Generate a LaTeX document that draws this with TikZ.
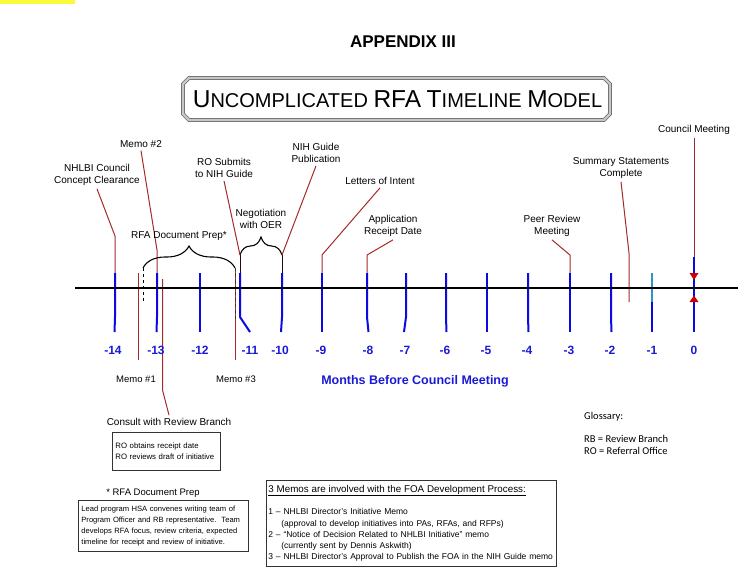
\documentclass[tikz,border=0pt]{standalone}
\usepackage{fontspec}
\setmainfont{Liberation Sans}
\newfontfamily\glossfont{Carlito}
\usepackage{tikz}
\usetikzlibrary{
    arrows.meta,
    calc,
    decorations.pathreplacing
}
\definecolor{leadred}{RGB}{165,42,42}
\definecolor{tickblue}{RGB}{10,10,225}
\definecolor{monthblue}{RGB}{25,25,215}
\definecolor{tealtick}{RGB}{45,150,195}
\definecolor{framegray}{RGB}{105,105,105}
\definecolor{markyellow}{RGB}{250,250,60}
\newcommand{\scword}[2]{{\fontsize{24.5}{28}\selectfont #1}{\fontsize{20}{28}\selectfont #2}}
\tikzstyle{leader} = [
    line width=1pt,
    draw=leadred
]
\tikzstyle{stub} = [
    line width=1pt,
    draw=black!75!leadred
]
\tikzstyle{tick} = [
    line width=2pt,
    draw=tickblue
]
\tikzstyle{lbl} = [
    align=center,
    inner sep=3pt,
    font=\fontsize{10}{12}\selectfont
]
\tikzstyle{month} = [
    text=monthblue,
    font=\bfseries\fontsize{12}{14}\selectfont
]
\tikzstyle{notebox} = [
    draw=black!80,
    line width=0.8pt,
    align=left,
    anchor=north west
]
\tikzstyle{curly} = [
    decorate,
    line width=1.1pt
]

\begin{document}
\begin{tikzpicture}[x=1pt, y=-1pt]
        \useasboundingbox (0,0) rectangle (738,568);
        \fill[markyellow] (0,0) rectangle (75,3.5);

        % Heading and title frame
        \node[font=\bfseries\fontsize{17}{20}\selectfont] (appendix) at (403,42) {APPENDIX III};
        \draw[draw=framegray, line width=0.7pt, double=gray!45, double distance=2.4pt]
            (189,78) -- (604,78) -- (610,84) -- (610,114) -- (604,120)
            -- (189,120) -- (183,114) -- (183,84) -- cycle;
        \node[anchor=base, font=\fontsize{20}{24}\selectfont] (title) at (397.5,107.5)
            {\scword{U}{NCOMPLICATED} \scword{RFA}{} \scword{T}{IMELINE} \scword{M}{ODEL}};

        % Tick tops
        \coordinate (m14) at (115,273);
        \coordinate (m13) at (157,273);
        \coordinate (m12) at (200,273);
        \coordinate (m11) at (240,273);
        \coordinate (m10) at (282,273);
        \coordinate (m9) at (322,273);
        \coordinate (m8) at (367,273);
        \coordinate (m7) at (406,273);
        \coordinate (m6) at (446,273);
        \coordinate (m5) at (487,273);
        \coordinate (m4) at (528,273);
        \coordinate (m3) at (570,273);
        \coordinate (m2) at (611,273);
        \coordinate (m1) at (652,273);
        \coordinate (m0) at (694,257);

        % NHLBI council clearance
        \node[lbl] (clearance) at (97,175) {NHLBI Council\\Concept Clearance};
        \draw[leader] (clearance.south) -- (115,236) -- (m14);

        % Memo 2
        \node[lbl] (memotwo) at (141,144) {Memo \#2};
        \draw[leader] (memotwo.south) -- (157,250) -- (m13);

        % RFA document prep brace
        \coordinate (prepL) at (143,268);
        \coordinate (prepR) at (235,268);
        \draw[curly, decoration={brace, amplitude=22pt}] (prepL) -- (prepR);
        \node[lbl] (docprep) at (179,236) {RFA Document Prep*};
        \draw[dashed, line width=0.7pt] (prepL) -- (143,302);

        % Memo 1 and memo 3
        \coordinate (memo1top) at (138,273);
        \coordinate (memo1end) at (138,360);
        \draw[leader] (memo1top) -- (memo1end);
        \node[lbl, font=\fontsize{9.5}{12}\selectfont] (memoone) at (136,379) {Memo \#1};
        \coordinate (memo3top) at (235,270);
        \coordinate (memo3end) at (235,360);
        \draw[leader] (memo3top) -- (memo3end);
        \draw[dashed, line width=0.8pt, black!80] (prepR) -- (235,320);
        \node[lbl, font=\fontsize{9.5}{12}\selectfont] (memothree) at (236,379) {Memo \#3};

        % Consult with review branch
        \node[lbl] (consult) at (169,422) {Consult with Review Branch};
        \coordinate (consulttop) at (162.5,279);
        \draw[leader] (consulttop) -- (162.5,390) -- (consult.north);

        % Negotiation brace
        \coordinate (negL) at (240,255);
        \coordinate (negR) at (282,255);
        \draw[curly, decoration={brace, amplitude=18pt}] (negL) -- (negR);
        \node[lbl] (negotiation) at (261,219) {Negotiation\\with OER};
        \draw[stub] (negL) -- (m11);
        \draw[stub] (negR) -- (m10);

        % RO submits and guide publication
        \node[lbl] (rosubmit) at (224,168) {RO Submits\\to NIH Guide};
        \draw[leader] (rosubmit.south) -- (negL);
        \node[lbl] (guidepub) at (316,153) {NIH Guide\\Publication};
        \draw[leader] (guidepub.south) -- (negR);

        % Letters, receipt, review
        \node[lbl] (intent) at (380,181) {Letters of Intent};
        \draw[leader] (intent.south) -- (322,255) -- (m9);
        \node[lbl] (receipt) at (393,226) {Application\\Receipt Date};
        \draw[leader] (receipt.south) -- (367,255) -- (m8);
        \node[lbl] (peer) at (552,226) {Peer Review\\Meeting};
        \draw[leader] (peer.south) -- (570,255) -- (m3);

        % Summary statements
        \node[lbl] (summary) at (621,168) {Summary Statements\\Complete};
        \coordinate (sumend) at (629,302);
        \draw[leader] (summary.south) -- (629,253) -- (sumend);

        % Council meeting
        \node[lbl] (council) at (694,130) {Council Meeting};
        \draw[leader] (council.south) -- (m0);

        % Month ticks
        \draw[tick] (m14) -- ++(0,44) -- ++(-0.5,15);
        \draw[tick] (m13) -- ++(0,44) -- ++(-0.5,15);
        \draw[tick] (m12) -- ++(0,44) -- ++(0,15);
        \draw[tick] (m11) -- ++(0,44) -- ++(10,15);
        \draw[tick] (m10) -- ++(0,44) -- ++(-1,15);
        \draw[tick] (m9) -- ++(0,44) -- ++(0,15);
        \draw[tick] (m8) -- ++(0,44) -- ++(1.5,15);
        \draw[tick] (m7) -- ++(0,44) -- ++(-2,15);
        \draw[tick] (m6) -- ++(0,44) -- ++(0.5,15);
        \draw[tick] (m5) -- ++(0,44) -- ++(0,15);
        \draw[tick] (m4) -- ++(0,44) -- ++(0.5,15);
        \draw[tick] (m3) -- ++(0,44) -- ++(0,15);
        \draw[tick] (m2) -- ++(0,44) -- ++(0.5,15);
        \draw[tick] (m1) -- ++(0,44) -- ++(0,15);
        \draw[line width=2pt, tealtick] (m1) -- ++(0,29);
        \draw[tick] (m0) -- ++(0,75);

        % Time axis
        \coordinate (axisL) at (75,287.5);
        \coordinate (axisR) at (738,287.5);
        \draw[line width=2pt] (axisL) -- (axisR);

        % Council markers
        \fill[red!80!black] (689.5,273) -- (698.5,273) -- (694,280) -- cycle;
        \fill[red!80!black] (689.5,302) -- (698.5,302) -- (694,295.5) -- cycle;

        % Month labels
        \node[month] (l14) at (113,350) {-14};
        \node[month] (l13) at (156,350) {-13};
        \node[month] (l12) at (200,350) {-12};
        \node[month] (l11) at (250,350) {-11};
        \node[month] (l10) at (280,350) {-10};
        \node[month] (l9) at (321,350) {-9};
        \node[month] (l8) at (368,350) {-8};
        \node[month] (l7) at (405,350) {-7};
        \node[month] (l6) at (445,350) {-6};
        \node[month] (l5) at (486,350) {-5};
        \node[month] (l4) at (527,350) {-4};
        \node[month] (l3) at (569,350) {-3};
        \node[month] (l2) at (610,350) {-2};
        \node[month] (l1) at (652,350) {-1};
        \node[month] (l0) at (694,350) {0};
        \node[text=monthblue, font=\bfseries\fontsize{12.5}{15}\selectfont] (months) at (415,381) {Months Before Council Meeting};

        % Note boxes
        \node[notebox, minimum width=108pt, minimum height=38pt, text width=102pt, inner xsep=3pt,
            font=\fontsize{7.8}{11}\selectfont] (reviewbox) at (112,432)
            {RO obtains receipt date\\RO reviews draft of initiative};
        \node[lbl, font=\fontsize{9.5}{12}\selectfont] (prepnote) at (153,493) {* RFA Document Prep};
        \node[notebox, minimum width=170pt, minimum height=51pt, text width=164pt, inner xsep=3pt,
            font=\fontsize{7.6}{11}\selectfont] (prepbox) at (78,500)
            {Lead program HSA convenes writing team of\\Program Officer and RB representative.~~Team\\develops RFA focus, review criteria, expected\\timeline for receipt and review of initiative.};
        \node[notebox, minimum width=290pt, minimum height=86pt, text width=286pt, inner xsep=2pt,
            font=\fontsize{8.5}{11.3}\selectfont] (memobox) at (266,480)
            {{\fontsize{9.8}{11.3}\selectfont\underline{3 Memos are involved with the FOA Development Process:}}\\[11.3pt]
            1 – NHLBI Director’s Initiative Memo\\
            \hspace*{13pt}(approval to develop initiatives into PAs, RFAs, and RFPs)\\
            2 – “Notice of Decision Related to NHLBI Initiative” memo\\
            \hspace*{13pt}(currently sent by Dennis Askwith)\\
            3 – NHLBI Director’s Approval to Publish the FOA in the NIH Guide memo};

        % Glossary
        \node[anchor=north west, align=left, inner sep=0pt, font=\glossfont\fontsize{10.5}{12}\selectfont] (glossary) at (584,412)
            {Glossary:\\[11pt]RB = Review Branch\\RO = Referral Office};
\end{tikzpicture}
\end{document}
